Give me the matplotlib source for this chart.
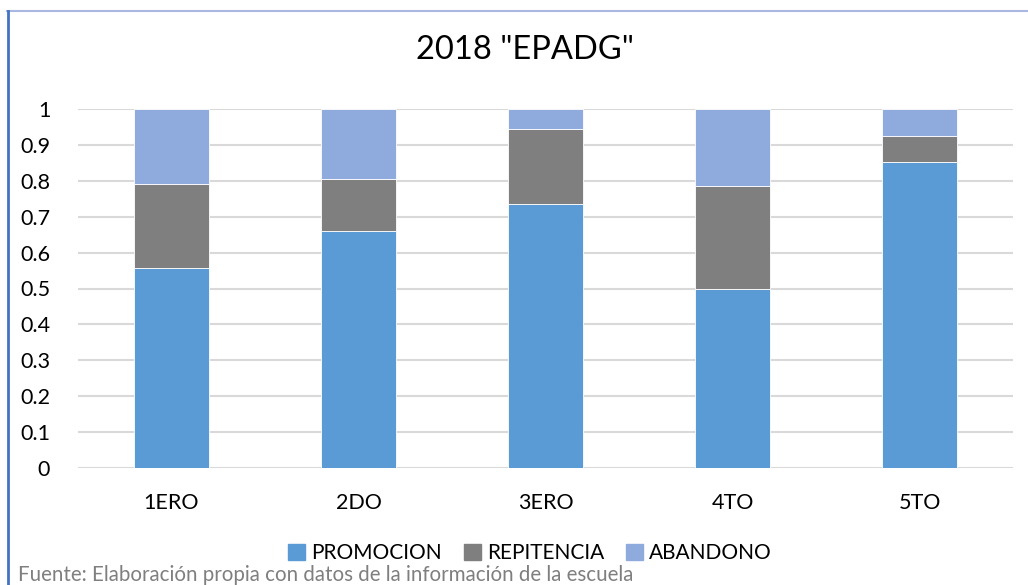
import matplotlib
matplotlib.use("Agg")
import matplotlib.pyplot as plt
from matplotlib.lines import Line2D
import numpy as np

categories = ["1ERO", "2DO", "3ERO", "4TO", "5TO"]
promocion = [0.557, 0.660, 0.735, 0.500, 0.851]
repitencia = [0.233, 0.145, 0.210, 0.285, 0.073]
abandono = [0.210, 0.195, 0.055, 0.215, 0.076]
series_names = ["PROMOCION", "REPITENCIA", "ABANDONO"]
colors = ["#5B9BD5", "#7F7F7F", "#8FAADC"]
yticks = [0, 0.1, 0.2, 0.3, 0.4, 0.5, 0.6, 0.7, 0.8, 0.9, 1]
title = '2018 "EPADG"'
source = "Fuente: Elaboración propia con datos de la información de la escuela"

plt.rcParams['font.family'] = ['Lato', 'DejaVu Sans']

fig = plt.figure(figsize=(10.28, 5.85), dpi=100)
ax = fig.add_axes([78/1028, 1-468/585, (1013-78)/1028, (468-109)/585])

x = np.arange(len(categories))
bottom = np.zeros(len(categories))
for vals, name, c in zip([promocion, repitencia, abandono], series_names, colors):
    ax.bar(x, vals, width=0.4, bottom=bottom, color=c, edgecolor='white',
           linewidth=0.6, label=name, zorder=3)
    bottom += np.array(vals)

ax.set_xlim(-0.5, len(categories) - 0.5)
ax.set_ylim(0, 1)
ax.set_yticks(yticks)
ax.set_yticklabels([f"{v:g}" for v in yticks], fontsize=15.5)
ax.set_xticks(x)
ax.set_xticklabels(categories, fontsize=15.5)
ax.tick_params(axis='both', length=0, colors='black')
ax.tick_params(axis='y', pad=20)
ax.tick_params(axis='x', pad=18)
ax.yaxis.grid(True, color='#D9D9D9', linewidth=1.5, zorder=0)
ax.set_axisbelow(True)
for s in ax.spines.values():
    s.set_visible(False)

fig.text(525/1028, 1-50/585, title, ha='center', va='center', fontsize=23.5)

handles = [plt.Rectangle((0, 0), 1, 1, color=c) for c in colors]
fig.legend(handles, series_names, loc='center', bbox_to_anchor=(530/1028, 1-553/585),
           ncol=3, frameon=False, fontsize=15, handlelength=0.8, handleheight=0.8,
           handletextpad=0.3, columnspacing=1.05, borderaxespad=0)

fig.text(18/1028, 1-575/585, source, ha='left', va='center', fontsize=14.8, color='#7F7F7F')

fig.add_artist(Line2D([7/1028, 1], [1-11/585, 1-11/585], color='#A9B8E0', linewidth=1.5,
                      transform=fig.transFigure))
fig.add_artist(Line2D([7.5/1028, 7.5/1028], [0, 1-11/585], color='#4472C4', linewidth=2,
                      transform=fig.transFigure))

fig.savefig("out.png", dpi=100)
